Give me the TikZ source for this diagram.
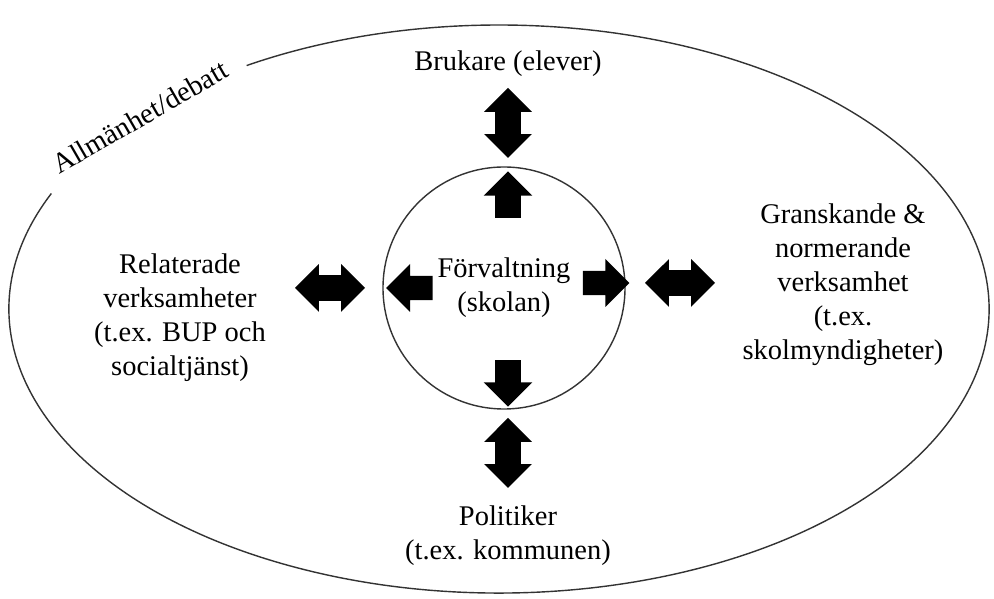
\documentclass[tikz,border=0pt]{standalone}
\usepackage{fontspec}
\setmainfont{Liberation Serif}
\usetikzlibrary{shapes.arrows, positioning}

\begin{document}
\begin{tikzpicture}[
                txt/.style={font=\fontsize{16.2}{19.4}\selectfont, align=center, inner sep=0pt},
                blk/.style={fill=black, draw=none, inner xsep=0pt, inner ysep=0.25cm},
                dbl/.style={blk, double arrow, double arrow head extend=0.22cm, minimum height=1.4cm, minimum width=0.94cm},
                sgl/.style={blk, single arrow, single arrow head extend=0.23cm, minimum height=0.93cm, minimum width=0.96cm},
                ring/.style={draw=black!80, line width=0.8pt}
            ]
                \useasboundingbox (0,0) rectangle (19.88,11.98);
                % outer ellipse, open where the label sits
                \coordinate (mid) at (9.98,5.80);
                \draw[ring] ([shift={(156:9.8 and 5.68)}]mid) arc[start angle=156, end angle=481, x radius=9.8, y radius=5.68];
                \node[txt, rotate=30] (publik) at (2.80,9.64) {Allmänhet/debatt};

                \node[txt, circle, ring, minimum size=4.84cm] (skola) at (10.08,6.22) {Förvaltning\\(skolan)};

                \node[txt] (brukare) at (10.16,10.70) {Brukare (elever)};
                \node[txt] (politik) at (10.16,1.26) {Politiker\\(t.ex. kommunen)};
                \node[txt] (relat) at (3.60,5.62) {Relaterade\\verksamheter\\(t.ex. BUP och\\socialtjänst)};
                \node[txt] (gransk) at (16.86,6.28) {Granskande \&\\normerande\\verksamhet\\(t.ex.\\skolmyndigheter)};

                \node[dbl, rotate=90] (d-upp) at (10.16,9.52) {};
                \node[dbl, rotate=90] (d-ned) at (10.16,2.92) {};
                \node[dbl] (d-vanster) at (6.60,6.22) {};
                \node[dbl] (d-hoger) at (13.60,6.32) {};

                \node[sgl, rotate=90] (s-upp) at (10.16,7.96) {};
                \node[sgl, rotate=270] (s-ned) at (10.16,4.44) {};
                \node[sgl, rotate=180, inner ysep=0.23cm] (s-vanster) at (8.31,6.22) {};
                \node[sgl, inner ysep=0.23cm] (s-hoger) at (12.00,6.32) {};
            \end{tikzpicture}
\end{document}
